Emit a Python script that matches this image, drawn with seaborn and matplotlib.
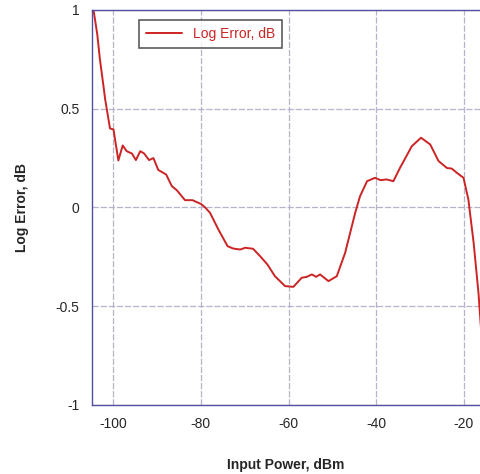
import numpy as np
import pandas as pd
import matplotlib
matplotlib.use("Agg")
import matplotlib.pyplot as plt
import seaborn as sns

# values
input_power = [-104.8, -103.6, -103.0, -102.1, -101.8, -100.7, -99.9, -98.8, -97.8,
               -96.9, -95.7, -94.8, -93.8, -92.9, -91.8, -90.8, -89.7, -87.9, -86.6,
               -85.5, -83.6, -81.9, -79.9, -79.0, -77.9, -76.0, -73.9, -72.6, -71.0,
               -69.9, -68.1, -66.5, -64.8, -63.1, -60.8, -58.9, -57.0, -55.8, -54.7,
               -53.7, -52.8, -50.9, -49.0, -47.1, -44.8, -43.7, -42.1, -40.3, -39.0,
               -37.7, -36.1, -34.6, -31.9, -29.8, -27.7, -25.8, -23.9, -22.8, -21.6,
               -20.1, -19.0, -17.8, -16.7, -16.0]
log_error = [1.05, 0.876, 0.75, 0.6, 0.547, 0.40, 0.395, 0.238, 0.314,
             0.285, 0.273, 0.24, 0.285, 0.273, 0.24, 0.25, 0.19, 0.167, 0.108,
             0.088, 0.037, 0.037, 0.017, 0.0, -0.027, -0.111, -0.196, -0.208, -0.213,
             -0.204, -0.209, -0.246, -0.289, -0.348, -0.398, -0.402, -0.356, -0.351, -0.339,
             -0.351, -0.339, -0.373, -0.348, -0.23, -0.027, 0.057, 0.133, 0.15, 0.138,
             0.142, 0.133, 0.2, 0.31, 0.353, 0.319, 0.235, 0.2, 0.197, 0.175,
             0.15, 0.04, -0.179, -0.432, -0.65]
x_ticks = [-100, -80, -60, -40, -20]
y_ticks = [-1, -0.5, 0, 0.5, 1]
y_ticklabels = ["-1", "-0.5", "0", "0.5", "1"]

df = pd.DataFrame({"Input Power, dBm": input_power, "Log Error, dB": log_error})

sns.set_style("white")
plt.rcParams['font.family'] = ['Liberation Sans', 'DejaVu Sans']
plt.rcParams['axes.unicode_minus'] = False

fig = plt.figure(figsize=(4.8, 4.74), dpi=100)
ax = fig.add_axes([0.1917, 0.1456, 1 - 0.1917, 0.979 - 0.1456])

sns.lineplot(data=df, x="Input Power, dBm", y="Log Error, dB", ax=ax,
             color="#cc2424", linewidth=1.4, label="Log Error, dB", sort=False)

ax.set_xlim(-104.8, -16.35)
ax.set_ylim(-1, 1)
ax.set_xticks(x_ticks)
ax.set_yticks(y_ticks)
ax.set_yticklabels(y_ticklabels)
ax.grid(True, color="#b4b4cc", linestyle=(0, (5, 1.5)), linewidth=0.9)
ax.tick_params(length=0, labelsize=10, pad=9)

for s in ["left", "bottom", "top"]:
    ax.spines[s].set_color("#5050a0")
    ax.spines[s].set_linewidth(1.0)
ax.spines["right"].set_visible(False)

ax.set_xlabel("Input Power, dBm", fontsize=10, fontweight="bold", labelpad=19)
ax.set_ylabel("Log Error, dB", fontsize=10, fontweight="bold", labelpad=19)

leg = ax.legend(loc="upper left", bbox_to_anchor=(0.12, 0.975), fontsize=10,
                frameon=True, fancybox=False, borderaxespad=0, handlelength=2.6,
                borderpad=0.5)
leg.get_frame().set_edgecolor("#333333")
leg.get_frame().set_linewidth(1.2)
for t in leg.get_texts():
    t.set_color("#cc2424")

fig.savefig("out.png", dpi=100)
